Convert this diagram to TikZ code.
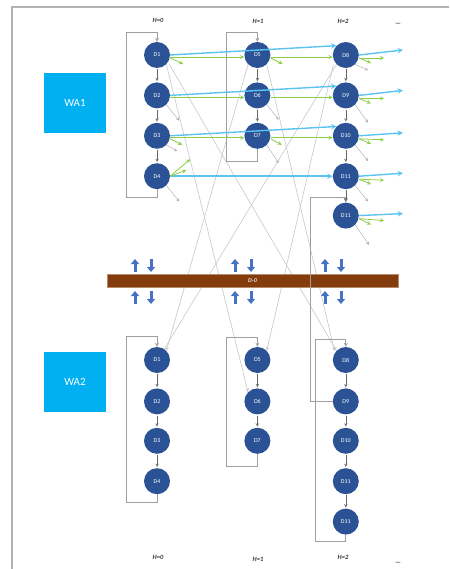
\documentclass[tikz,border=0pt]{standalone}
\usepackage{fontspec}
\setmainfont{Carlito}
\usetikzlibrary{arrows,arrows.meta,positioning,backgrounds}

\definecolor{nodeblue}{RGB}{44,82,150}
\definecolor{wacyan}{RGB}{0,176,240}
\definecolor{linkcyan}{RGB}{90,195,242}
\definecolor{linkgreen}{RGB}{140,205,70}
\definecolor{busbrown}{RGB}{132,60,12}
\definecolor{pairblue}{RGB}{68,114,196}

\begin{document}
\begin{tikzpicture}[x=1pt,y=-1pt,>=stealth,
	dnode/.style={circle,fill=nodeblue,minimum size=26pt,inner sep=0pt,text=white,font=\fontsize{6}{7}\selectfont},
	wabox/.style={fill=wacyan,minimum width=62pt,minimum height=60pt,inner sep=0pt,text=white,font=\fontsize{11}{12}\selectfont},
	hlabel/.style={font=\fontsize{6.5}{7}\selectfont\itshape\bfseries,text=black!80},
	chain/.style={->,gray!80!black,line width=0.5pt,shorten <=1pt,shorten >=1pt},
	loopline/.style={->,gray!75,line width=0.8pt},
	cross/.style={->,black!22,line width=0.6pt},
	fastlink/.style={->,linkcyan,line width=1.4pt},
	slowlink/.style={->,linkgreen,line width=0.8pt},
	stub/.style={->,black!30,line width=0.5pt},
	pairarrow/.style={-{Triangle[width=8pt,length=5pt]},pairblue,line width=3pt}]
	\useasboundingbox (0,0) rectangle (449,569);

	% Draw frame
	\draw[gray!60,line width=1.2pt] (12,569) -- (12,7) -- (449,7);

	% Draw area boxes
	\node[wabox] (wa1) at (75,103) {WA1};
	\node[wabox] (wa2) at (75,382) {WA2};

	% Draw column headers
	\node[hlabel] (h0top) at (158,20) {H=0};
	\node[hlabel] (h1top) at (258,21) {H=1};
	\node[hlabel] (h2top) at (343,21) {H=2};
	\node[hlabel] (etop) at (398,24) {—};
	\node[hlabel] (h0bot) at (158,557) {H=0};
	\node[hlabel] (h1bot) at (258,559) {H=1};
	\node[hlabel] (h2bot) at (343,557) {H=2};
	\node[hlabel] (ebot) at (398,563) {—};

	% Draw upper nodes
	\node[dnode] (t1) at (157,55) {D1};
	\node[dnode,below=14pt of t1] (t2) {D2};
	\node[dnode,below=14pt of t2] (t3) {D3};
	\node[dnode,below=14pt of t3] (t4) {D4};
	\node[dnode,right=74pt of t1] (t5) {D5};
	\node[dnode,below=14pt of t5] (t6) {D6};
	\node[dnode,below=14pt of t6] (t7) {D7};
	\node[dnode,right=62pt of t5] (t8) {D8};
	\node[dnode,below=14pt of t8] (t9) {D9};
	\node[dnode,below=14pt of t9] (t10) {D10};
	\node[dnode,below=14pt of t10] (t11) {D11};
	\node[dnode,below=13pt of t11] (t12) {D11};

	% Draw lower nodes
	\node[dnode] (b1) at (157,360) {D1};
	\node[dnode,below=15pt of b1] (b2) {D2};
	\node[dnode,below=13pt of b2] (b3) {D3};
	\node[dnode,below=14pt of b3] (b4) {D4};
	\node[dnode,right=74pt of b1] (b5) {D5};
	\node[dnode,below=15pt of b5] (b6) {D6};
	\node[dnode,below=13pt of b6] (b7) {D7};
	\node[dnode,right=62pt of b5] (b8) {D8};
	\node[dnode,below=15pt of b8] (b9) {D9};
	\node[dnode,below=13pt of b9] (b10) {D10};
	\node[dnode,below=14pt of b10] (b11) {D11};
	\node[dnode,below=14pt of b11] (b12) {D11};

	% Draw bus
	\node[fill=busbrown,draw=busbrown!60,minimum width=291pt,minimum height=13pt,inner sep=0pt,
		text=white!85!busbrown,font=\fontsize{6}{7}\selectfont\itshape\bfseries] (bus) at (252.5,280.5) {D-0};

	% Draw crossing links between the areas
	\begin{scope}[on background layer]
	\draw[cross] (t1.south east) -- (b6.north west);
	\draw[cross] ([xshift=3pt]t1.south east) -- (b8.north west);
	\draw[cross] (t5.south west) -- (b1.north east);
	\draw[cross] (t5.south east) -- ([xshift=-2pt]b8.north west);
	\draw[cross] (t8.south west) -- ([xshift=-3pt]b1.north east);
	\draw[cross] ([xshift=-3pt]t8.south west) -- (b5.north east);
	\end{scope}

	% Draw feedback loops
	\draw[loopline] (t4.south) |- (126,197) -- (126,32) -| (t1.north);
	\draw[loopline] (t7.south) |- (226,161) -- (226,32) -| (t5.north);
	\draw[loopline] (b9.west) -| (310,197) -| (t12.north);
	\draw[loopline] (b4.south) |- (126,502) -- (126,336) -| (b1.north);
	\draw[loopline] (b7.south) |- (226,466) -- (226,337) -| (b5.north);
	\draw[loopline] (b12.south) |- (315,541) -- (315,339) -| (b8.north);

	% Draw chains
	\draw[chain] (t1) -- (t2);
	\draw[chain] (t2) -- (t3);
	\draw[chain] (t3) -- (t4);
	\draw[chain] (t5) -- (t6);
	\draw[chain] (t6) -- (t7);
	\draw[chain] (t8) -- (t9);
	\draw[chain] (t9) -- (t10);
	\draw[chain] (t10) -- (t11);
	\draw[chain] (t11) -- (t12);
	\draw[chain] (b1) -- (b2);
	\draw[chain] (b2) -- (b3);
	\draw[chain] (b3) -- (b4);
	\draw[chain] (b5) -- (b6);
	\draw[chain] (b6) -- (b7);
	\draw[chain] (b8) -- (b9);
	\draw[chain] (b9) -- (b10);
	\draw[chain] (b10) -- (b11);
	\draw[chain] (b11) -- (b12);

	% Draw slow links
	\draw[slowlink] ([yshift=-2pt]t1.east) -- ([yshift=-2pt]t5.west);
	\draw[slowlink] ([yshift=-2pt]t5.east) -- ([yshift=-2pt]t8.west);
	\draw[slowlink] ([yshift=-2pt]t2.east) -- ([yshift=-2pt]t6.west);
	\draw[slowlink] ([yshift=-2pt]t6.east) -- ([yshift=-2pt]t9.west);
	\draw[slowlink] ([yshift=-2pt]t3.east) -- ([yshift=-2pt]t7.west);
	\draw[slowlink] ([yshift=-2pt]t7.east) -- ([yshift=-2pt]t10.west);

	% Draw fast links
	\draw[fastlink] (t1.east) -- (t8.north west);
	\draw[fastlink] (t2.east) -- (t9.north west);
	\draw[fastlink] (t3.east) -- (t10.north west);
	\draw[fastlink] (t4.east) -- (t11.west);

	% Draw outgoing links
	\draw[fastlink] (t8.east) -- ++(44,-5);
	\draw[fastlink] (t9.east) -- ++(44,-5);
	\draw[fastlink] (t10.east) -- ++(44,-3);
	\draw[fastlink] (t11.east) -- ++(44,-3);
	\draw[fastlink] (t12.east) -- ++(44,-2);

	% Draw short green stubs
	\draw[slowlink] ([yshift=-3pt]t1.east) -- ++(13,6);
	\draw[slowlink] ([yshift=-3pt]t5.east) -- ++(12,6);
	\draw[slowlink] ([yshift=-3pt]t3.east) -- ++(12,6);
	\draw[slowlink] ([yshift=-3pt]t7.east) -- ++(11,6);
	\draw[slowlink] (t4.east) -- ++(20,-17);
	\draw[slowlink] (t4.east) -- ++(16,-6);
	\draw[slowlink] ([yshift=-3pt]t8.east) -- ++(12,5);
	\draw[slowlink] ([yshift=-3pt]t8.east) -- ++(25,0);
	\draw[slowlink] ([yshift=-3pt]t9.east) -- ++(12,5);
	\draw[slowlink] ([yshift=-3pt]t9.east) -- ++(25,0);
	\draw[slowlink] ([yshift=-3pt]t10.east) -- ++(12,5);
	\draw[slowlink] ([yshift=-3pt]t10.east) -- ++(25,1);
	\draw[slowlink] ([yshift=-3pt]t11.east) -- ++(12,5);
	\draw[slowlink] ([yshift=-3pt]t11.east) -- ++(25,1);
	\draw[slowlink] ([yshift=-3pt]t12.east) -- ++(12,6);
	\draw[slowlink] ([yshift=-3pt]t12.east) -- ++(25,2);

	% Draw short gray stubs
	\draw[stub] (t2.south east) -- ++(13,16);
	\draw[stub] (t3.south east) -- ++(11,6);
	\draw[stub] (t4.south east) -- ++(13,16);
	\draw[stub] (t6.south east) -- ++(12,15);
	\draw[stub] (t7.south east) -- ++(12,18);
	\draw[stub] (t8.south east) -- ++(13,6);
	\draw[stub] (t9.south east) -- ++(13,18);
	\draw[stub] (t10.south east) -- ++(13,16);
	\draw[stub] (t11.south east) -- ++(13,16);
	\draw[stub] (t12.south east) -- ++(14,20);

	% Draw up and down pairs round the bus
	\foreach \x in {135,235,325} {
		\draw[pairarrow] (\x,272) -- (\x,259);
		\draw[pairarrow] (\x+16,259) -- (\x+16,272);
		\draw[pairarrow] (\x,304) -- (\x,291);
		\draw[pairarrow] (\x+16,291) -- (\x+16,304);
	}
\end{tikzpicture}
\end{document}
